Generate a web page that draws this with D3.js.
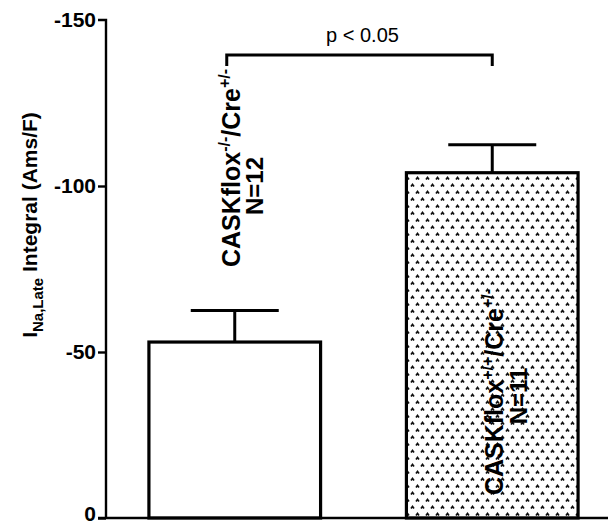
<!DOCTYPE html>
<html>
<head>
<meta charset="utf-8">
<script src="https://cdn.jsdelivr.net/npm/d3@7"></script>
<style>
  html, body { margin: 0; padding: 0; background: #fff; }
  svg { display: block; font-family: "Liberation Sans", Arial, sans-serif; }
</style>
</head>
<body>
<svg id="chart" width="608" height="525"></svg>
<script>
// Late sodium current integral by genotype (mean ± SEM)
const groups = ["knockout", "control"];
const means = [-53, -104];
const sems = [9.5, 8.4];
const genotypeBase = ["CASKflox", "CASKflox"];
const genotypeSup1 = ["-/-", "+/+"];
const genotypeSup2 = ["+/-", "+/-"];
const sampleSizes = ["N=12", "N=11"];
const yTicks = [0, -50, -100, -150];
const pLabel = "p < 0.05";

const svg = d3.select("#chart");
const W = 608;

const y = d3.scaleLinear().domain([0, -150]).range([518, 20]);
const x = d3.scaleBand().domain(groups).range([106, 621])
  .paddingInner(1 / 3).paddingOuter(1 / 6);

// caret dot pattern for the second bar
const defs = svg.append("defs");
const pat = defs.append("pattern")
  .attr("id", "carets").attr("patternUnits", "userSpaceOnUse")
  .attr("width", 10).attr("height", 14);
pat.append("rect").attr("width", 10).attr("height", 14).attr("fill", "#fff");
[[1, 3], [6, 10]].forEach(([cx, cy]) => {
  pat.append("path")
    .attr("d", `M${cx},${cy + 1.5} L${cx + 1.5},${cy - 0.5} L${cx + 3},${cy + 1.5}`)
    .attr("fill", "none").attr("stroke", "#111").attr("stroke-width", 1.7);
});

// bars
svg.append("g").selectAll("rect").data(groups).join("rect")
  .attr("x", d => x(d))
  .attr("y", (d, i) => y(means[i]))
  .attr("width", x.bandwidth())
  .attr("height", (d, i) => y(0) - y(means[i]))
  .attr("fill", (d, i) => i === 0 ? "#fff" : "url(#carets)")
  .attr("stroke", "#000").attr("stroke-width", 3.2);

// error bars
const eb = svg.append("g").attr("stroke", "#000").attr("stroke-width", 3).attr("fill", "none");
groups.forEach((g, i) => {
  const cx = x(g) + x.bandwidth() / 2;
  const yTop = y(means[i] - sems[i]);
  eb.append("line").attr("x1", cx).attr("x2", cx).attr("y1", y(means[i])).attr("y2", yTop);
  eb.append("line").attr("x1", cx - 44).attr("x2", cx + 44).attr("y1", yTop).attr("y2", yTop);
});

// axes
const yAxis = d3.axisLeft(y).tickValues(yTicks).tickSize(8).tickPadding(2)
  .tickFormat(d => String(d));
const gy = svg.append("g").attr("transform", "translate(106,0)").call(yAxis);
gy.select(".domain").attr("stroke-width", 2.4).attr("d", `M-8,${y(-150)}H0V${y(0)}`);
gy.selectAll(".tick line").attr("stroke-width", 2.4);
gy.selectAll(".tick text").attr("font-size", 21).attr("font-weight", "bold")
  .attr("fill", "#000").attr("font-family", "Liberation Sans, Arial, sans-serif");
gy.selectAll(".tick").filter(d => d === 0).select("text").attr("dy", "0.1em");
gy.select(".tick:last-of-type line").remove();

svg.append("line").attr("x1", 98).attr("x2", W).attr("y1", y(0)).attr("y2", y(0))
  .attr("stroke", "#000").attr("stroke-width", 2.4);

// y axis title
const yt = svg.append("text")
  .attr("transform", `translate(37,225) rotate(-90)`)
  .attr("text-anchor", "middle").attr("font-weight", "bold").attr("font-size", 21);
yt.append("tspan").text("I");
yt.append("tspan").attr("font-size", 15).attr("dy", 6).text("Na,Late");
yt.append("tspan").attr("dy", -6).text(" Integral (Ams/F)");

// genotype labels (rotated)
const labelPos = [
  { dx: -3, cy: 168, ndx: 20, ncy: 186 },
  { dx: 3, cy: 392, ndx: 27, ncy: 396 }
];
groups.forEach((g, i) => {
  const cx = x(g) + x.bandwidth() / 2;
  const p = labelPos[i];
  const t = svg.append("text")
    .attr("transform", `translate(${cx + p.dx + 8},${p.cy}) rotate(-90)`)
    .attr("text-anchor", "middle").attr("font-weight", "bold").attr("font-size", 25);
  t.append("tspan").text(genotypeBase[i]);
  t.append("tspan").attr("font-size", 16).attr("dy", -10).text(genotypeSup1[i]);
  t.append("tspan").attr("dy", 10).text("/Cre");
  t.append("tspan").attr("font-size", 16).attr("dy", -10).text(genotypeSup2[i]);
  svg.append("text")
    .attr("transform", `translate(${cx + p.ndx + 8},${p.ncy}) rotate(-90)`)
    .attr("text-anchor", "middle").attr("font-weight", "bold").attr("font-size", 24)
    .text(sampleSizes[i]);
});

// significance bracket
const bx1 = x(groups[0]) + x.bandwidth() / 2 - 8;
const bx2 = x(groups[1]) + x.bandwidth() / 2;
svg.append("path")
  .attr("d", `M${bx1},66V55H${bx2}V66`)
  .attr("fill", "none").attr("stroke", "#000").attr("stroke-width", 3);
svg.append("text").attr("x", (bx1 + bx2) / 2 + 3).attr("y", 42)
  .attr("text-anchor", "middle").attr("font-size", 20).text(pLabel);
</script>
</body>
</html>
